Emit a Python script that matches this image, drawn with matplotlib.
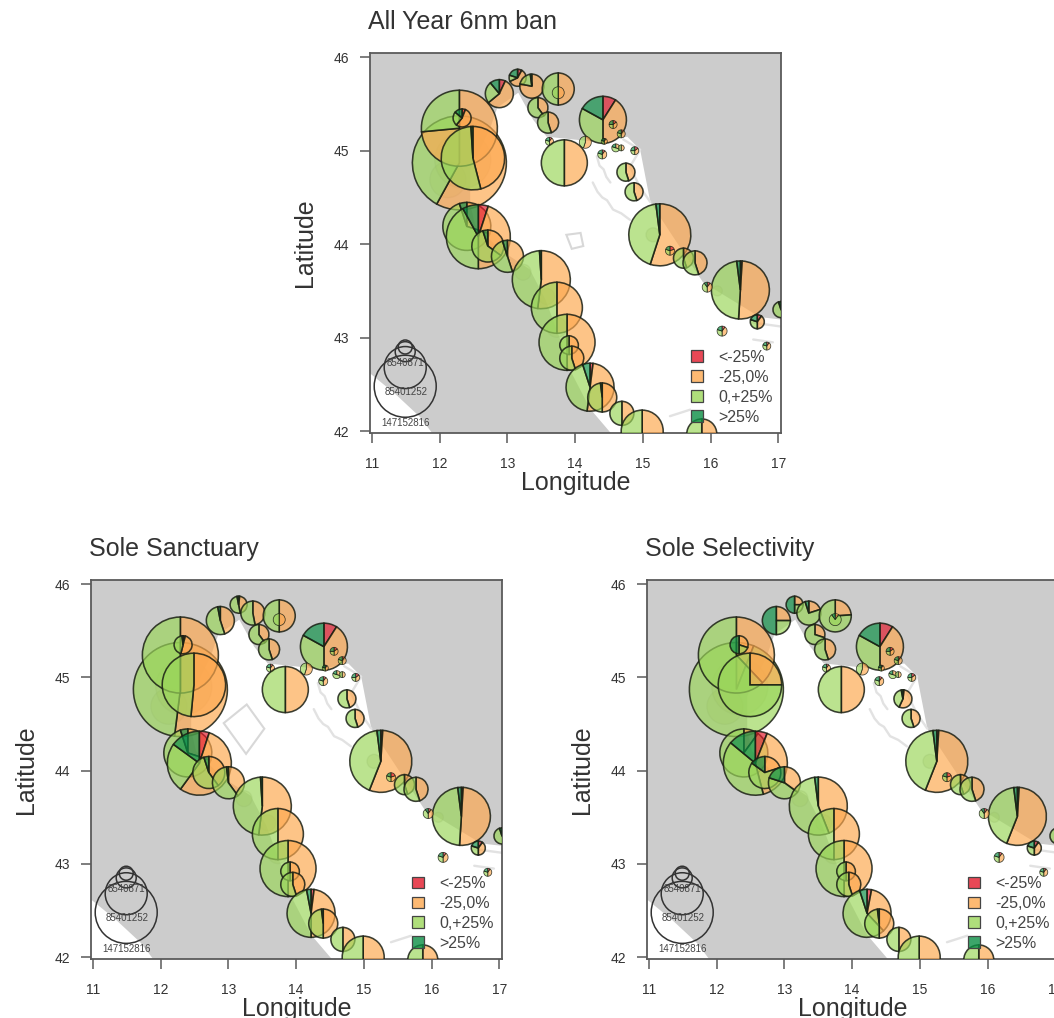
import matplotlib
matplotlib.use("Agg")
import matplotlib.pyplot as plt
from matplotlib.patches import Wedge, Circle, Polygon, Patch
from matplotlib.transforms import ScaledTranslation

plt.rcParams['font.family'] = ['Liberation Sans', 'DejaVu Sans']

panel_titles = ["All Year 6nm ban", "Sole Sanctuary", "Sole Selectivity"]
x_ticks = [11, 12, 13, 14, 15, 16, 17]
y_ticks = [42, 43, 44, 45, 46]
class_labels = ["<-25%", "-25,0%", "0,+25%", ">25%"]
class_colors = ["#E31A2C", "#FDA84F", "#9BD65A", "#0B8F45"]

pie_lon = [12.29, 12.29, 12.49, 12.33, 12.40, 12.57, 12.71, 13.00, 13.50, 13.73, 13.88, 13.91,
           13.95, 14.22, 14.40, 14.69, 14.99, 15.87, 15.25, 15.40, 15.60, 15.77, 16.44, 15.95,
           17.04, 16.69, 16.17, 16.83, 12.88, 13.15, 13.36, 13.45, 13.60, 13.75, 13.75, 14.41,
           14.56, 14.68, 14.43, 14.15, 13.62, 13.84, 14.60, 14.68, 14.40, 14.88, 14.75, 14.87]
pie_lat = [44.87, 45.24, 44.92, 45.35, 44.19, 44.08, 43.98, 43.87, 43.62, 43.32, 42.95, 42.92,
           42.78, 42.47, 42.36, 42.19, 42.00, 41.97, 44.10, 43.93, 43.85, 43.80, 43.51, 43.54,
           43.30, 43.17, 43.07, 42.91, 45.61, 45.78, 45.69, 45.46, 45.30, 45.66, 45.62, 45.33,
           45.28, 45.18, 45.10, 45.09, 45.10, 44.87, 45.03, 45.03, 44.96, 45.00, 44.77, 44.56]
pie_radius = [47, 38, 31.7, 9, 24, 32, 16, 16, 29, 25.5, 28, 9.3,
              12, 24, 14.5, 12, 21, 15, 31, 4.5, 10, 12, 29, 5,
              8, 7, 5, 4, 14, 8.5, 12, 10, 10.5, 16, 6, 23.5,
              4, 4, 3, 6, 4, 23, 4, 3, 4.5, 4, 9, 9]

# shares per pie: [<-25, -25..0, 0..+25, >25]
year_ban = [[0, .58, .42, 0], [0, .735, .265, 0], [0, .46, .53, .01], [.06, .55, .25, .14],
            [0, .3, .65, .05], [.05, .45, .42, .08], [0, .35, .6, .05], [0, .45, .5, .05],
            [0, .52, .47, .01], [0, .5, .5, 0], [0, .5, .5, 0], [0, .5, .5, 0],
            [0, .45, .55, 0], [.02, .5, .43, .05], [0, .5, .48, .02], [0, .5, .5, 0],
            [0, .5, .5, 0], [0, .5, .5, 0], [0, .55, .43, .02], [.2, .3, .3, .2],
            [0, .45, .55, 0], [0, .45, .55, 0], [.01, .5, .47, .02], [.1, .4, .4, .1],
            [0, .4, .55, .05], [.1, .4, .3, .2], [.1, .4, .3, .2], [.1, .4, .3, .2],
            [.07, .57, .25, .11], [.08, .6, .12, .2], [0, .78, .2, .02], [0, .4, .6, 0],
            [0, .45, .55, 0], [0, .5, .5, 0], [0, .5, .5, 0], [.09, .41, .33, .17],
            [.15, .35, .25, .25], [.1, .4, .3, .2], [.1, .4, .3, .2], [0, .55, .45, 0],
            [.1, .4, .3, .2], [0, .5, .5, 0], [0, .3, .5, .2], [0, .5, .5, 0],
            [.1, .4, .3, .2], [.15, .35, .25, .25], [0, .45, .55, 0], [0, .45, .55, 0]]
sole_sanctuary = [[0, .52, .48, 0], [0, .5, .5, 0], [0, .515, .485, 0], [.04, .5, .44, .02],
                  [0, .3, .65, .05], [.05, .55, .25, .15], [0, .4, .55, .05], [0, .4, .58, .02],
                  [0, .52, .47, .01], [0, .5, .5, 0], [0, .5, .5, 0], [0, .5, .5, 0],
                  [0, .45, .55, 0], [.02, .48, .47, .03], [0, .5, .48, .02], [0, .5, .5, 0],
                  [0, .5, .5, 0], [0, .5, .5, 0], [.01, .55, .42, .02], [.2, .3, .3, .2],
                  [0, .45, .55, 0], [0, .45, .55, 0], [.01, .5, .47, .02], [.1, .4, .4, .1],
                  [0, .4, .55, .05], [.1, .4, .3, .2], [.1, .4, .3, .2], [.1, .4, .3, .2],
                  [0, .45, .52, .03], [.02, .45, .5, .03], [0, .47, .53, 0], [0, .4, .6, 0],
                  [0, .45, .55, 0], [0, .5, .5, 0], [0, .5, .5, 0], [.09, .41, .33, .17],
                  [.15, .35, .25, .25], [.1, .4, .3, .2], [.1, .4, .3, .2], [0, .55, .45, 0],
                  [.1, .4, .3, .2], [0, .5, .5, 0], [0, .3, .5, .2], [0, .5, .5, 0],
                  [.1, .4, .3, .2], [.15, .35, .25, .25], [0, .45, .55, 0], [0, .45, .55, 0]]
sole_selectivity = [[0, .06, .94, 0], [0, .38, .62, 0], [0, .25, .75, 0], [0, .3, .2, .5],
                    [0, .1, .9, 0], [.06, .4, .4, .14], [0, .2, .65, .15], [0, .35, .45, .2],
                    [0, .44, .54, .02], [0, .5, .5, 0], [0, .5, .5, 0], [0, .5, .5, 0],
                    [0, .45, .55, 0], [.03, .35, .57, .05], [0, .5, .48, .02], [0, .5, .5, 0],
                    [0, .5, .5, 0], [0, .5, .5, 0], [.01, .55, .42, .02], [.2, .3, .3, .2],
                    [0, .45, .55, 0], [0, .45, .55, 0], [.01, .55, .42, .02], [.1, .4, .4, .1],
                    [0, .4, .55, .05], [.1, .4, .3, .2], [.1, .4, .3, .2], [.1, .4, .3, .2],
                    [0, .25, .25, .5], [0, .25, .25, .5], [0, .2, .75, .05], [0, .3, .7, 0],
                    [0, .45, .55, 0], [0, .24, .76, 0], [0, .1, .8, .1], [.09, .41, .33, .17],
                    [.15, .35, .25, .25], [.1, .4, .3, .2], [.1, .4, .3, .2], [0, .55, .45, 0],
                    [.1, .4, .3, .2], [0, .5, .5, 0], [0, .3, .5, .2], [0, .5, .5, 0],
                    [.1, .4, .3, .2], [.15, .35, .25, .25], [.02, .55, .4, .03], [0, .45, .55, 0]]
panel_shares = [year_ban, sole_sanctuary, sole_selectivity]

# map: sea areas, islands, closed areas
sea_lon = [13.16, 13.38, 13.58, 14.37, 14.77, 14.96, 15.11, 15.89, 16.73, 17.2, 17.2, 14.62,
           14.22, 13.92, 13.78, 13.56, 13.33, 12.89, 12.52, 12.45, 12.45, 12.74, 12.85]
sea_lat = [45.62, 45.33, 45.15, 45.09, 45.15, 45.01, 44.45, 43.59, 43.22, 43.18, 41.9, 41.9,
           42.24, 42.66, 42.98, 43.41, 43.73, 43.94, 44.21, 44.43, 44.80, 45.23, 45.46]
west_sea_lon = [10.9, 11.34, 11.71, 11.97, 10.9]
west_sea_lat = [42.66, 42.40, 42.15, 41.9, 41.9]
island_lines = [([14.32, 14.36, 14.42, 14.46, 14.52], [44.94, 44.84, 44.80, 44.72, 44.66]),
                ([14.26, 14.33, 14.40, 14.47, 14.56, 14.68, 14.81],
                 [44.66, 44.56, 44.50, 44.47, 44.37, 44.33, 44.26]),
                ([14.71, 14.96, 14.81, 14.95, 15.11], [45.12, 45.01, 44.83, 44.62, 44.45]),
                ([15.40, 15.70], [42.16, 42.23]),
                ([16.63, 16.92], [42.98, 42.95]),
                ([16.63, 17.03], [43.16, 43.12])]
reef_lon = [12.12, 15.15, 16.10, 13.23, 13.58, 13.73, 12.34]
reef_lat = [44.69, 44.10, 43.50, 43.70, 43.44, 43.11, 44.90]
reef_radius = [18, 7, 5, 8, 8, 10, 28]
box_year_lon = [13.87, 14.08, 14.12, 13.95]
box_year_lat = [44.10, 44.12, 43.98, 43.95]
box_sanctuary_lon = [13.27, 13.53, 13.26, 12.93]
box_sanctuary_lat = [44.71, 44.45, 44.18, 44.51]
panel_boxes = [(box_year_lon, box_year_lat), (box_sanctuary_lon, box_sanctuary_lat), None]

# bubble size key
key_lat = [42.48, 42.68, 42.85, 42.90]
key_radius = [31, 21, 10, 7]
key_labels = ["147152816", "85401252", "8540871"]
key_label_lat = [42.085, 42.42, 42.73]
key_lon = 11.49

W, H = 1054, 1018
DPI = 100
fig = plt.figure(figsize=(W / DPI, H / DPI), dpi=DPI, facecolor="white")
panel_px = [(370, 53, 781, 433), (91, 580, 502, 959), (647, 580, 1058, 959)]
FRAME = "#5a5a5a"
TEXT = "#333333"


def place(ax, lon, lat):
    return fig.dpi_scale_trans + ScaledTranslation(lon, lat, ax.transData)


for title, shares, box, (l, t, r, b) in zip(panel_titles, panel_shares, panel_boxes, panel_px):
    ax = fig.add_axes([l / W, 1 - b / H, (r - l) / W, (b - t) / H], facecolor="#CCCCCC")
    ax.set_xlim(10.97, 17.04)
    ax.set_ylim(41.98, 46.045)
    ax.add_patch(Polygon(list(zip(sea_lon, sea_lat)), fc="white", ec="none", zorder=1))
    ax.add_patch(Polygon(list(zip(west_sea_lon, west_sea_lat)), fc="white", ec="none", zorder=1))
    for xs, ys in island_lines:
        ax.plot(xs, ys, color="#E2E2E2", lw=1.7, zorder=1.5, solid_capstyle="round")
    if box is not None:
        ax.add_patch(Polygon(list(zip(*box)), fc="none", ec="#D8D8D8", lw=1.5, zorder=1.5))
    for lon, lat, rad in zip(reef_lon, reef_lat, reef_radius):
        c = Circle((0, 0), rad / DPI, transform=place(ax, lon, lat), fc="#A9B06A", ec="#8f8f8f",
                   alpha=0.25, lw=1, zorder=1.6)
        c.set_clip_path(ax.patch)
        ax.add_patch(c)

    for i, (lon, lat, rad, sh) in enumerate(zip(pie_lon, pie_lat, pie_radius, shares)):
        start = 0.0
        tr = place(ax, lon, lat)
        edge_w = 1.15 if rad >= 7 else 0.55
        for share, col in zip(sh, class_colors):
            if share > 0:
                w = Wedge((0, 0), rad / DPI, 90 - 360 * (start + share), 90 - 360 * start,
                          transform=tr, fc=matplotlib.colors.to_rgba(col, 0.68),
                          ec=(0.1, 0.12, 0.08, 0.85), lw=edge_w, zorder=3 + i * 0.01)
                w.set_clip_path(ax.patch)
                ax.add_patch(w)
            start += share

    for lat, rad in zip(key_lat, key_radius):
        c = Circle((0, 0), rad / DPI, transform=place(ax, key_lon, lat), fc="none",
                   ec="#333333", lw=1.1, zorder=4)
        c.set_clip_path(ax.patch)
        ax.add_patch(c)
    for lab, lat in zip(key_labels, key_label_lat):
        ax.text(key_lon + 0.01, lat, lab, fontsize=7, color="#444444", ha="center", va="center", zorder=5)

    handles = [Patch(fc=matplotlib.colors.to_rgba(c, 0.8), ec="#444444", lw=0.9, label=lb)
               for c, lb in zip(class_colors, class_labels)]
    ax.legend(handles=handles, loc="upper left", bbox_to_anchor=(0.782, 0.219), frameon=False,
              fontsize=11.5, labelcolor="#444444", borderpad=0, borderaxespad=0, labelspacing=0.31,
              handlelength=0.75, handleheight=0.75, handletextpad=0.95).set_zorder(6)

    ax.set_xticks(x_ticks)
    ax.set_yticks(y_ticks)
    ax.tick_params(axis="both", length=7, width=1.1, color=FRAME, labelsize=10, labelcolor=TEXT)
    ax.tick_params(axis="x", pad=10)
    ax.tick_params(axis="y", pad=8)
    for s in ax.spines.values():
        s.set_color(FRAME)
        s.set_linewidth(1.3)
    ax.set_xlabel("Longitude", fontsize=18, color=TEXT, va="center")
    ax.xaxis.set_label_coords(0.5, -50 / (b - t))
    ax.set_ylabel("Latitude", fontsize=18, color=TEXT, va="center")
    ax.yaxis.set_label_coords(-65 / (r - l), 0.5)
    ax.set_title(title, loc="left", x=-0.004, fontsize=18, color=TEXT, pad=17)

fig.savefig("out.png", dpi=DPI, facecolor="white")
